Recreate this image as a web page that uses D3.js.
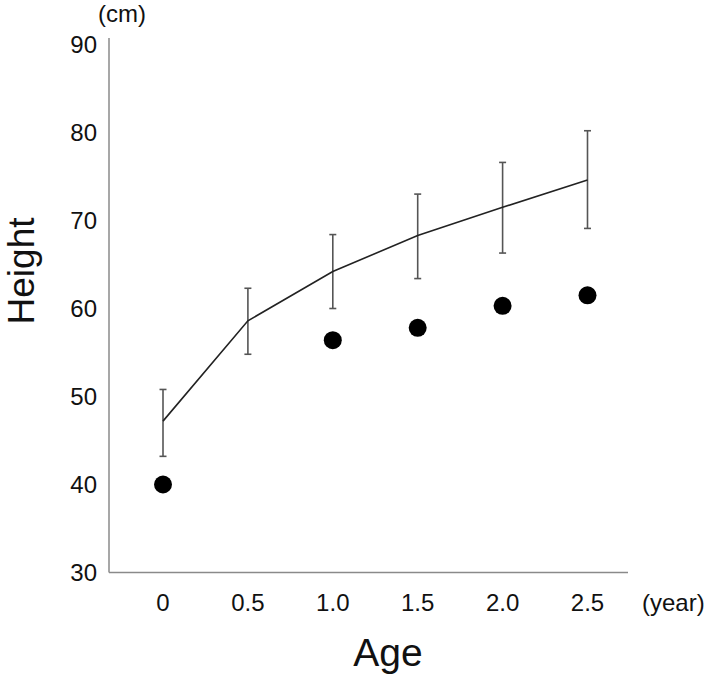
<!DOCTYPE html>
<html>
<head>
<meta charset="utf-8">
<script src="https://cdn.jsdelivr.net/npm/d3@7"></script>
<style>
  html, body { margin: 0; padding: 0; background: #fff; }
  svg { display: block; font-family: "Liberation Sans", Arial, sans-serif; }
</style>
</head>
<body>
<svg id="chart" width="709" height="675"></svg>
<script>
// Data
const ages = [0, 0.5, 1.0, 1.5, 2.0, 2.5];
const ageLabels = ["0", "0.5", "1.0", "1.5", "2.0", "2.5"];
const meanHeight = [47.2, 58.6, 64.2, 68.3, 71.5, 74.6];
const upperHeight = [50.8, 62.3, 68.4, 73.0, 76.6, 80.2];
const lowerHeight = [43.2, 54.8, 60.0, 63.4, 66.3, 69.1];
const dotAges = [0, 1.0, 1.5, 2.0, 2.5];
const dotHeight = [40.0, 56.4, 57.8, 60.3, 61.5];
const yTicks = [30, 40, 50, 60, 70, 80, 90];

const svg = d3.select("#chart");

const x = d3.scaleLinear().domain([0, 2.5]).range([163, 587.5]);
const y = d3.scaleLinear().domain([30, 90]).range([572.5, 44.5]);

const axisX0 = 109, axisX1 = 628, axisTop = 38;

// Axes lines
svg.append("line")
  .attr("x1", axisX0).attr("x2", axisX0)
  .attr("y1", axisTop).attr("y2", y(30))
  .attr("stroke", "#8a8a8a").attr("stroke-width", 1.5);
svg.append("line")
  .attr("x1", axisX0).attr("x2", axisX1)
  .attr("y1", y(30)).attr("y2", y(30))
  .attr("stroke", "#8a8a8a").attr("stroke-width", 1.5);

// Y tick labels
svg.append("g").selectAll("text").data(yTicks).join("text")
  .attr("x", 97).attr("y", d => y(d))
  .attr("dy", "0.36em")
  .attr("text-anchor", "end")
  .attr("font-size", 24)
  .attr("fill", "#111")
  .text(d => d);

// X tick labels
svg.append("g").selectAll("text").data(ages).join("text")
  .attr("x", d => x(d)).attr("y", 602)
  .attr("dy", "0.36em")
  .attr("text-anchor", "middle")
  .attr("font-size", 24)
  .attr("fill", "#111")
  .text((d, i) => ageLabels[i]);

// Units
svg.append("text").attr("x", 122).attr("y", 13).attr("dy", "0.36em")
  .attr("text-anchor", "middle").attr("font-size", 24).attr("fill", "#111").text("(cm)");
svg.append("text").attr("x", 642).attr("y", 602).attr("dy", "0.36em")
  .attr("text-anchor", "start").attr("font-size", 24).attr("fill", "#111").text("(year)");

// Axis titles
svg.append("text").attr("x", 388).attr("y", 666)
  .attr("text-anchor", "middle").attr("font-size", 39).attr("fill", "#111").text("Age");
svg.append("text")
  .attr("transform", "translate(34,271) rotate(-90)")
  .attr("text-anchor", "middle").attr("font-size", 37).attr("fill", "#111").text("Height");

// Error bars
const eb = svg.append("g").attr("stroke", "#555").attr("stroke-width", 1.6);
ages.forEach((a, i) => {
  eb.append("line").attr("x1", x(a)).attr("x2", x(a))
    .attr("y1", y(upperHeight[i])).attr("y2", y(lowerHeight[i]));
  [upperHeight[i], lowerHeight[i]].forEach(v => {
    eb.append("line").attr("x1", x(a) - 3.5).attr("x2", x(a) + 3.5)
      .attr("y1", y(v)).attr("y2", y(v));
  });
});

// Mean line
const line = d3.line().x(d => x(d[0])).y(d => y(d[1]));
svg.append("path")
  .datum(ages.map((a, i) => [a, meanHeight[i]]))
  .attr("d", line)
  .attr("fill", "none")
  .attr("stroke", "#222")
  .attr("stroke-width", 1.6);

// Dots
svg.append("g").selectAll("circle").data(dotAges).join("circle")
  .attr("cx", d => x(d))
  .attr("cy", (d, i) => y(dotHeight[i]))
  .attr("r", 9)
  .attr("fill", "#000");
</script>
</body>
</html>
